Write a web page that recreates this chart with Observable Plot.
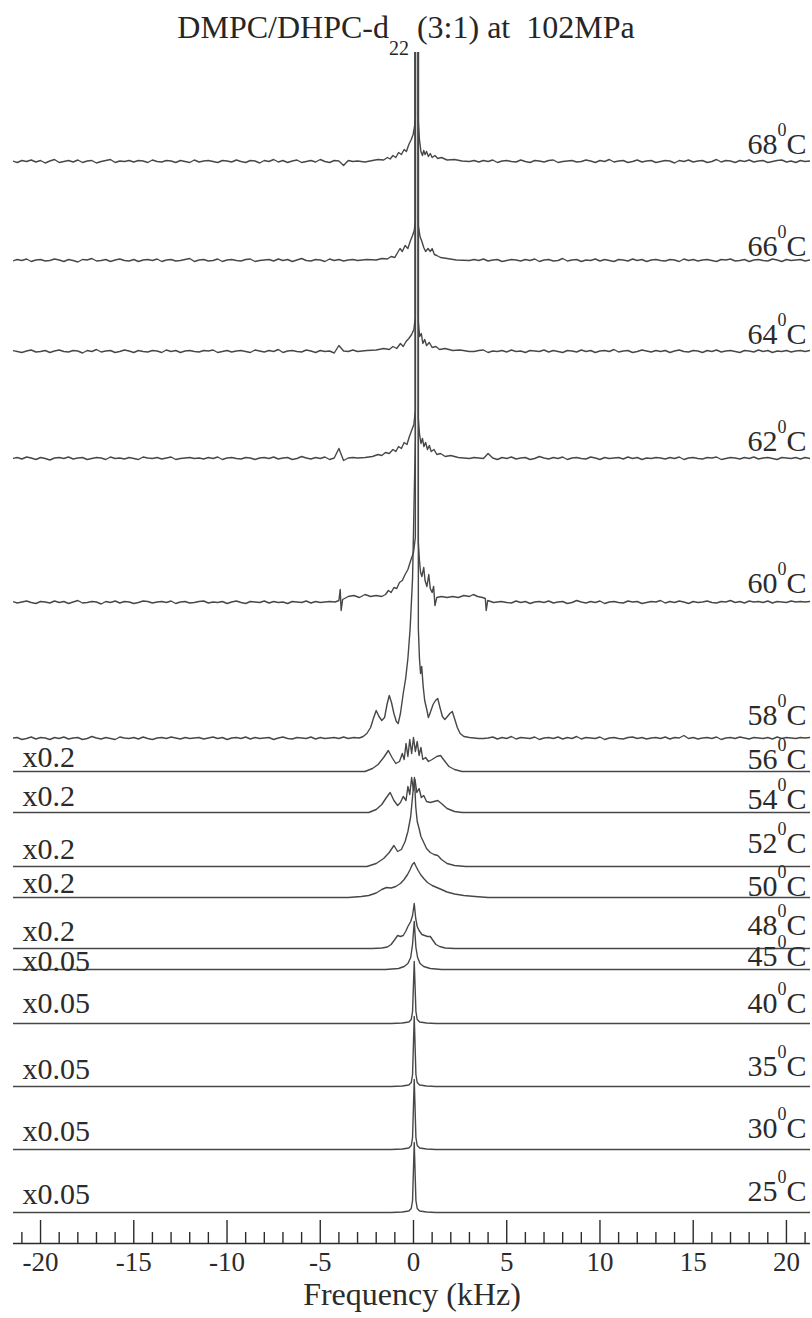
<!DOCTYPE html>
<html>
<head>
<meta charset="utf-8">
<script src="https://cdn.jsdelivr.net/npm/d3@7"></script>
<script src="https://cdn.jsdelivr.net/npm/@observablehq/plot@0.6"></script>
<style>
  body { margin: 0; background: #fff; }
  #title { position: relative; height: 46px; z-index: 2; font-family: "Liberation Serif", "Times New Roman", serif; color: #262626; }
  #title .t { position: absolute; left: 0; right: 0; top: 11px; text-align: center; font-size: 32px; line-height: 32px; white-space: pre; }
  #title .sub { font-size: 20px; position: relative; top: 17px; }
</style>
</head>
<body>
<div id="title"><span class="t">DMPC/DHPC-d<span class="sub">22</span> (3:1) at  102MPa</span></div>
<div id="chart"></div>
<script>
// Temperatures (°C), intensity scale factors and vertical stacking offsets of the spectra
const temps = ["68", "66", "64", "62", "60", "58", "56", "54", "52", "50", "48", "45", "40", "35", "30", "25"];
const scaleLabels = ["", "", "", "", "", "", "x0.2", "x0.2", "x0.2", "x0.2", "x0.2", "x0.05", "x0.05", "x0.05", "x0.05", "x0.05"];
const offsets = [1082, 983, 892, 785, 641, 505, 472, 431, 377, 346, 295, 274, 220, 157, 94, 31];

// Frequency axis (kHz)
const majorTicks = [-20, -15, -10, -5, 0, 5, 10, 15, 20];
const minorTicks = [-21, -19, -18, -17, -16, -14, -13, -12, -11, -9, -8, -7, -6, -4, -3, -2, -1,
                    1, 2, 3, 4, 6, 7, 8, 9, 11, 12, 13, 14, 16, 17, 18, 19, 21];
const xLabel = "Frequency (kHz)";

// Baseline noise of the high-temperature spectra, sampled every 0.25 kHz from -21.5 kHz
const noiseStart = -21.5, noiseStep = 0.25;
const noise68 = [
  0.5,-1,1,0,1.5,-0.5,1,-1.5,0.5,2, -1,0,1,-0.5,1.5,-1,0.5,1,-1.5,0, 1,2,-1,0.5,0,1,-0.5,1,0.5,-1,
  1.5,0,-0.5,1,0.5,-1,1,0,-1,1.5, -0.5,0.5,1,0,-1,1,0.5,-0.5,1.5,0, -1,1,0.5,-1.5,1,0,2,-0.5,1,-1,
  0.5,1.5,-1,0,1,-0.5,2,0,-1,1, 0.5,-4,1,0,1.5,-0.5,1,-1,2,0.5, -1,1,0,1.5,-0.5,1,0,0.5,1,-1,
  0,1,0.5,-0.5,1.5,0,1,-1,0.5,1, -0.5,1,0,1.5,-1,0.5,1,0,-0.5,1.5, 0,-1,1,0.5,-0.5,1,1.5,-1,0,0.5,
  1,-0.5,0,1.5,0.5,-1,1,0,2,-0.5, 0.5,1,-1,0,1.5,-0.5,0.5,1,-1,0, 1,0.5,-1.5,1,0,1.5,-0.5,0.5,1,-1,
  0,2,-0.5,1,0.5,-1,1,0,1.5,-0.5, 0.5,1,-1,0,1,1.5,-0.5,0.5,-1,1, 0,0.5,1];
const noise66 = [
  -0.5,1,0,1.5,-1,0.5,1,-0.5,0,1.5, 0.5,-1,1,0,-1.5,1,0.5,2,-0.5,0, 1,-1,0.5,1.5,0,-0.5,1,-1,0.5,1,
  0,1.5,-1,0.5,1,-0.5,0,1,2,-1, 0.5,1,-0.5,0,1.5,-1,0.5,1,0,-0.5, 1,1.5,-1,0,0.5,1,-0.5,1.5,0,1,
  -1,0.5,2,0,-0.5,1,0.5,-1,1.5,0, 1,-0.5,0.5,1,-1,0,1.5,0.5,-0.5,1, 0,1,-1,0.5,1.5,0,0.5,-0.5,1,0,
  1.5,-1,0.5,0,1,-0.5,1,0.5,-1,1, 0,1.5,-0.5,0.5,1,-1,0,1,0.5,-0.5, 1,0,1.5,-1,0.5,1,-0.5,0,2,-0.5,
  0.5,1,-1,0.5,0,1.5,-0.5,1,0,-1, 1,0.5,-0.5,1.5,0,1,-1,0.5,1,0, -0.5,1,0.5,-1,1.5,0,1,-0.5,0.5,1,
  0,-1,1,0.5,1.5,-0.5,0,1,-1,0.5, 1,0,-0.5,1.5,0.5,-1,1,0,0.5,1, -0.5,0.5,0];
const noise64 = [
  1,0,-1,0.5,1.5,-0.5,0,1,-1,0.5, 1.5,0,-0.5,1,0.5,-1.5,1,0,2,-0.5, 0.5,1,-1,0,1.5,0.5,-1,1,0,-0.5,
  1,0.5,-1,1.5,0,1,-1,0.5,1,0, -0.5,1,0.5,1.5,-1,0,1,-0.5,0.5,1, 0,-1,1.5,0.5,-0.5,1,0,2,-1,0.5,
  1,0,-0.5,1.5,0.5,-1,1,0,0.5,-1.5, 6,0.5,0,1.5,-0.5,1,-1,0.5,0,1, 1.5,-0.5,0.5,1,0,-1,0.5,1,0,1.5,
  -0.5,1,0,0.5,1.5,-1,0.5,1,-0.5,0, 1,1.5,-1,0.5,0,1,-0.5,1.5,0,0.5, -1,1,0.5,0,1.5,-0.5,1,0,-1,1,
  0.5,-0.5,1.5,0,1,-1,0.5,1,0,2, -0.5,0.5,1,-1,0,1.5,0.5,-0.5,1,0, 1,-1,0.5,1.5,0,-0.5,1,0.5,-1,1,
  0,1.5,-0.5,0.5,1,0,-1,1,0.5,-0.5, 1.5,0,1,-1,0.5,0,1,-0.5,0.5,1, 0,1,0.5];
const noise62 = [
  0,1,-0.5,1.5,0.5,-1,1,0,-1.5,0.5, 1,0,1.5,-0.5,0.5,1,-1,0,1,0.5, -1,1.5,0,0.5,-0.5,1,0,-1,1.5,0.5,
  0,1,-0.5,0.5,1.5,-1,0,0.5,1,0, 0.5,-0.5,1,0,1.5,-1,0.5,1,0,-0.5, 1,0.5,-1,0.5,1,0,1.5,-0.5,0.5,1,
  -1,0,2,0.5,-0.5,1,0,1.5,-1,0.5, 10,-2,0.5,1,0,-0.5,1,0.5,0,1, 0.5,1,0,1,0.5,1,0,1,0.5,1,
  0,1,0.5,1,0,1,0.5,1,0,1, 0.5,0,5,0.5,-1,1,0,1.5,-0.5,0.5, 1,-1,0,2,0.5,-0.5,1,0,1.5,-1,
  0.5,1,0,-0.5,1.5,0.5,-1,1,0,0.5, 1,-0.5,1.5,0,1,-1,0.5,0,1,0.5, -0.5,1,0,1.5,-1,0.5,1,0,-0.5,1,
  0.5,1.5,-1,0,1,0.5,-0.5,1,0,1.5, -0.5,0.5,1,0,-1,1,0.5,0,1,-0.5, 1,0,0.5];
const noise60 = [
  1,-0.5,0.5,1.5,0,-1,1,0.5,-0.5,1.5, 0,1,-1,0.5,2,-0.5,0,1,0.5,-1.5, 1,0,1.5,-0.5,1,0.5,-1,0,1.5,1,
  -0.5,0.5,1,0,1.5,-1,0.5,1,-0.5,0, 1,1.5,-0.5,0.5,0,1,-1,0.5,1.5,0, -1,1,0.5,0,1.5,-0.5,1,0,0.5,-1,
  1,0.5,0,1.5,-0.5,1,0.5,0,1,0, 0.5,1,0,0.5,1,0,0.5,1,0,0.5, 1,0,0.5,1,0,0.5,1,0,0.5,1,
  0,0.5,1,0,0.5,1,0,0.5,1,0, 0.5,1,0,0.5,1,0,0.5,-0.5,1.5,0, 1,-1,0.5,1,0,1.5,-0.5,0.5,1,-1,
  0,2,0.5,-0.5,1,0,1.5,-1,0.5,1, 0,-0.5,1.5,0.5,1,-1,0,1,0.5,2, -0.5,1,0,1.5,0.5,-1,1,0,0.5,1.5,
  0,-0.5,1,0.5,2,0,1,-0.5,1.5,0.5, 1,0,1.5,-0.5,1,0.5,0,1.5,0.5,1, 0.5,1,0];
const noise58 = [
  0.5,1,-1,0,1.5,-0.5,1,0.5,-1,1, 0,1.5,-0.5,0.5,1,-1,0,2,0.5,-0.5, 1,0,-1,1.5,0.5,0,1,-0.5,1.5,0,
  -1,0.5,1,0,1.5,0.5,-0.5,1,0,0.5, 1,-0.5,0.5,1.5,0,1,-1,0.5,1,0, 1.5,-0.5,1,0,0.5,1,-1,0.5,1.5,0,
  -0.5,1,0.5,0,1.5,-0.5,1,0,0.5,1, 0,1.5,0.5,1,0,0.5,1,0,0.5,1, 0,0.5,1,0,0.5,1,0,0.5,1,0,
  0.5,1,0,0.5,1,0,0.5,1,0,0.5, 1,0,0.5,1.5,-0.5,1,0,2,-0.5,1, 0.5,0,1.5,-1,0.5,1,0,1.5,-0.5,1,
  0,2,-0.5,1,0.5,0,1.5,-1,0.5,1, 0,-0.5,1,1.5,0,1,-0.5,0.5,1,0, 1.5,-0.5,1,0.5,3,0,1,-0.5,0.5,1,
  0,1.5,-1,0.5,1,0,1.5,0.5,-0.5,1, 0.5,0,1,-0.5,1.5,0,1,0.5,0,1, 0.5,1,0];

// Line shapes around the centre, [kHz, intensity above the spectrum's baseline]
const shape68 = [[-3,0.5],[-2.6,-0.5],[-2.2,1],[-1.9,2],[-1.6,1.5],[-1.4,4],[-1.25,2.5],[-1.1,6],[-0.95,4],[-0.8,9],[-0.65,7],
  [-0.5,12],[-0.38,10],[-0.25,17],[-0.12,22],[-0.02,27],[0.05,34],[0.10,45],[0.10,1500],[0.26,1500],[0.26,40],[0.32,22],
  [0.4,10],[0.48,6],[0.55,11],[0.62,7],[0.7,10],[0.8,5],[0.9,8],[1.0,4],[1.15,6],[1.3,3],[1.5,4],[1.8,1.5],[2.2,2],[2.6,0.5],[3,0]];
const shape66 = [[-3,0],[-2.5,1],[-2,0.5],[-1.7,2],[-1.4,1.5],[-1.2,4],[-1.0,3],[-0.85,8],[-0.72,12],[-0.6,9],[-0.45,15],
  [-0.3,12],[-0.18,19],[-0.05,25],[0.04,30],[0.10,40],[0.10,1500],[0.26,1500],[0.26,35],[0.35,24],[0.45,19],[0.55,13],
  [0.65,9],[0.78,12],[0.9,9],[1.0,12],[1.12,6],[1.25,5],[1.45,3],[1.8,2],[2.3,0.5],[3,0]];
const shape64 = [[-3,0],[-2.5,1],[-2,1.5],[-1.6,3],[-1.3,2],[-1.1,5],[-0.9,3],[-0.7,8],[-0.55,5],[-0.4,10],[-0.25,13],
  [-0.1,17],[0.02,22],[0.10,35],[0.10,1500],[0.26,1500],[0.26,30],[0.33,15],[0.42,18],[0.5,8],[0.6,12],[0.7,6],[0.85,9],
  [1.0,4],[1.2,5],[1.4,2],[1.7,3],[2.1,1],[2.5,1.5],[3,0]];
const shape62 = [[-3,0.5],[-2.6,1],[-2.2,2],[-1.9,4],[-1.7,3],[-1.5,6],[-1.3,5],[-1.1,9],[-0.95,7],[-0.8,12],[-0.65,10],
  [-0.5,16],[-0.35,14],[-0.22,22],[-0.1,28],[0.02,34],[0.10,48],[0.10,1500],[0.26,1500],[0.26,40],[0.32,25],[0.4,15],
  [0.48,20],[0.56,12],[0.65,16],[0.75,9],[0.85,13],[0.95,7],[1.1,9],[1.25,4],[1.45,5],[1.7,2],[2.0,3],[2.4,1],[3,0]];
const shape60 = [[-5,0],[-4.5,1],[-4.2,0.5],[-4.0,2],[-3.93,13],[-3.88,-8],[-3.8,3],[-3.5,6],[-3.2,7],[-2.9,5],[-2.6,8],
  [-2.3,6],[-2.0,7],[-1.7,6],[-1.5,8],[-1.35,12],[-1.2,10],[-1.05,15],[-0.9,14],[-0.75,20],[-0.6,22],[-0.45,28],[-0.3,33],
  [-0.15,42],[0,50],[0.10,65],[0.10,1500],[0.26,1500],[0.26,60],[0.32,42],[0.38,30],[0.45,26],[0.55,35],[0.62,22],[0.72,16],
  [0.82,28],[0.9,14],[1.0,10],[1.08,16],[1.15,-3],[1.25,5],[1.5,6],[1.8,5],[2.1,6],[2.4,5],[2.7,7],[3.0,6],[3.2,8],[3.45,6],
  [3.7,5],[3.85,4],[3.9,-8],[3.98,2],[4.3,0],[4.7,1],[5,0]];
const shape58 = [[-3.5,0],[-3.2,1],[-2.9,0.5],[-2.7,2],[-2.5,5],[-2.3,11],[-2.15,20],[-2.0,28],[-1.85,22],[-1.7,18],
  [-1.55,21],[-1.42,34],[-1.3,43],[-1.18,36],[-1.05,25],[-0.92,17],[-0.82,15],[-0.7,25],[-0.55,45],[-0.42,60],[-0.3,80],
  [-0.18,110],[-0.05,160],[0.10,300],[0.10,1500],[0.26,1500],[0.26,110],[0.32,80],[0.38,65],[0.44,72],[0.52,52],[0.6,38],
  [0.7,30],[0.8,21],[0.92,27],[1.05,34],[1.18,38],[1.3,40],[1.42,31],[1.55,22],[1.68,19],[1.82,22],[1.95,25],[2.08,27],
  [2.2,20],[2.35,11],[2.5,5],[2.7,2],[3.0,1],[3.5,0]];
const shape56 = [[-2.6,0],[-2.2,3],[-1.9,7],[-1.6,14],[-1.35,21],[-1.15,14],[-0.95,8],[-0.75,10],[-0.6,18],[-0.5,12],
  [-0.4,28],[-0.3,15],[-0.2,32],[-0.1,18],[0,34],[0.1,20],[0.2,30],[0.3,16],[0.4,24],[0.5,12],[0.65,14],[0.8,10],[1.0,12],
  [1.25,15],[1.45,16],[1.65,11],[1.9,5],[2.2,2],[2.6,0]];
const shape54 = [[-2.4,0],[-2.0,3],[-1.7,8],[-1.45,15],[-1.25,20],[-1.05,12],[-0.85,7],[-0.7,10],[-0.55,16],[-0.4,12],
  [-0.3,26],[-0.2,18],[-0.1,35],[0,22],[0.08,33],[0.18,20],[0.3,24],[0.42,15],[0.55,17],[0.7,11],[0.9,10],[1.1,11],
  [1.3,12],[1.5,9],[1.8,4],[2.2,1],[2.6,0]];
const shape52 = [[-2.5,0],[-2,3],[-1.6,8],[-1.3,14],[-1.05,21],[-0.85,15],[-0.65,17],[-0.45,25],[-0.3,35],[-0.15,50],
  [-0.05,70],[0.05,89],[0.12,60],[0.2,45],[0.3,38],[0.4,30],[0.55,24],[0.7,18],[0.9,14],[1.1,12],[1.3,11],[1.5,7],
  [1.8,3],[2.2,1],[2.8,0]];
const shape50 = [[-3.5,0],[-2.8,1],[-2.4,2],[-2.0,4.5],[-1.7,8],[-1.45,10],[-1.2,9.5],[-0.95,11],[-0.7,14],[-0.5,18],
  [-0.32,23],[-0.18,28],[-0.06,33],[0.04,35],[0.14,31],[0.25,27],[0.38,23],[0.55,19],[0.75,15],[1.0,12],[1.25,10],
  [1.5,8],[1.8,5.5],[2.2,3.5],[2.7,2],[3.3,1],[4,0]];
const shape48 = [[-2.2,0],[-1.7,0.5],[-1.4,1.5],[-1.2,4],[-1.0,9],[-0.85,13],[-0.7,12],[-0.55,13],[-0.42,17],[-0.3,22],
  [-0.15,27],[-0.05,33],[0.04,45],[0.12,30],[0.2,22],[0.3,18],[0.45,14],[0.6,13],[0.75,12],[0.9,12],[1.05,8],[1.2,4],
  [1.4,2],[1.7,0.5],[2.2,0]];
const shape45 = [[-1.5,0],[-0.8,1],[-0.5,3],[-0.3,6],[-0.15,12],[-0.05,25],[0.04,48],[0.13,22],[0.22,12],[0.35,6],
  [0.55,3],[0.9,1],[1.5,0]];
const shape40 = [[-1.2,0],[-0.6,0.5],[-0.25,1.5],[-0.12,4],[-0.05,12],[0.04,62],[0.13,12],[0.2,4],[0.33,1.5],[0.7,0.5],[1.2,0]];
const shape35 = [[-1.2,0],[-0.6,0.5],[-0.25,1.5],[-0.12,4],[-0.05,12],[0.04,70],[0.13,12],[0.2,4],[0.33,1.5],[0.7,0.5],[1.2,0]];
const shape30 = [[-1.2,0],[-0.6,0.5],[-0.25,1.5],[-0.12,4],[-0.05,12],[0.04,70],[0.13,12],[0.2,4],[0.33,1.5],[0.7,0.5],[1.2,0]];
const shape25 = [[-1.2,0],[-0.6,0.5],[-0.25,1.5],[-0.12,4],[-0.05,12],[0.04,70],[0.13,12],[0.2,4],[0.33,1.5],[0.7,0.5],[1.2,0]];

const shapes = [shape68, shape66, shape64, shape62, shape60, shape58, shape56, shape54, shape52, shape50, shape48,
                shape45, shape40, shape35, shape30, shape25];
const noises = [noise68, noise66, noise64, noise62, noise60, noise58];

// Merge the baseline samples outside the central region with the central line shape
function profile(shape, noise) {
  const lo = shape[0][0], hi = shape[shape.length - 1][0];
  const outer = noise
    ? noise.map((v, i) => [noiseStart + noiseStep * i, v])
    : [[noiseStart, 0], [-noiseStart, 0]];
  const pts = outer.filter(([f]) => f < lo || f > hi).concat(shape);
  return pts.sort((a, b) => a[0] - b[0]);
}

const rows = temps.flatMap((t, i) =>
  profile(shapes[i], noises[i]).map(([f, v]) => ({temp: t, f, y: offsets[i] + v}))
);

// Text placement relative to each spectrum's baseline (pixels)
const rightLift = [8, 5, 8, 8, 10, 14, 3, 4, 14, 2, 14, 4, 11, 11, 12, 12];
const leftLift = [0, 0, 0, 0, 0, 0, 5, 7, 8, 5, 8, -1, 11, 8, 9, 9];
const labelRows = temps.map((t, i) => ({t, s: scaleLabels[i], yr: offsets[i] + rightLift[i], yl: offsets[i] + leftLift[i]}));

const W = 812, H = 1272, mTop = 6, mBottom = 75, mLeft = 13, mRight = 2;
const innerH = H - mTop - mBottom;
const ink = "#2b2b2b", lineInk = "#474747";
const font = "Liberation Serif, Times New Roman, serif";

const chart = Plot.plot({
  width: W, height: H,
  marginTop: mTop, marginBottom: mBottom, marginLeft: mLeft, marginRight: mRight,
  x: {domain: [-21.45, 21.29]},
  y: {domain: [0, innerH], axis: null},
  style: {background: "transparent", fontFamily: font, overflow: "visible", color: ink},
  marks: [
    Plot.line(rows, {x: "f", y: "y", z: "temp", stroke: lineInk, strokeWidth: 1.4, clip: true}),
    Plot.ruleY([0], {stroke: ink, strokeWidth: 1.6}),
    Plot.tickX(minorTicks, {x: d => d, insetTop: innerH - 11, stroke: ink, strokeWidth: 1.4}),
    Plot.tickX(majorTicks, {x: d => d, insetTop: innerH - 23, stroke: ink, strokeWidth: 1.4}),
    Plot.axisX(majorTicks, {tickSize: 0, tickPadding: 8, fontSize: 27, fontFamily: font, fill: ink, tickFormat: d => `${d}`, label: null}),
    Plot.text([xLabel], {frameAnchor: "bottom", dy: 61, lineAnchor: "bottom", fontSize: 32, fontFamily: font, fill: ink}),
    Plot.text(labelRows, {y: "yr", text: "t", frameAnchor: "right", textAnchor: "end", lineAnchor: "bottom", dx: -33, fontSize: 30, fontFamily: font, fill: ink}),
    Plot.text(labelRows, {y: "yr", text: () => "0", frameAnchor: "right", textAnchor: "end", lineAnchor: "bottom", dx: -24, dy: -18, fontSize: 18, fontFamily: font, fill: ink}),
    Plot.text(labelRows, {y: "yr", text: () => "C", frameAnchor: "right", textAnchor: "end", lineAnchor: "bottom", dx: -4, fontSize: 30, fontFamily: font, fill: ink}),
    Plot.text(labelRows.filter(d => d.s), {y: "yl", text: "s", frameAnchor: "left", textAnchor: "start", lineAnchor: "bottom", dx: 9, fontSize: 30, fontFamily: font, fill: ink})
  ]
});
document.getElementById("chart").append(chart);
</script>
</body>
</html>
